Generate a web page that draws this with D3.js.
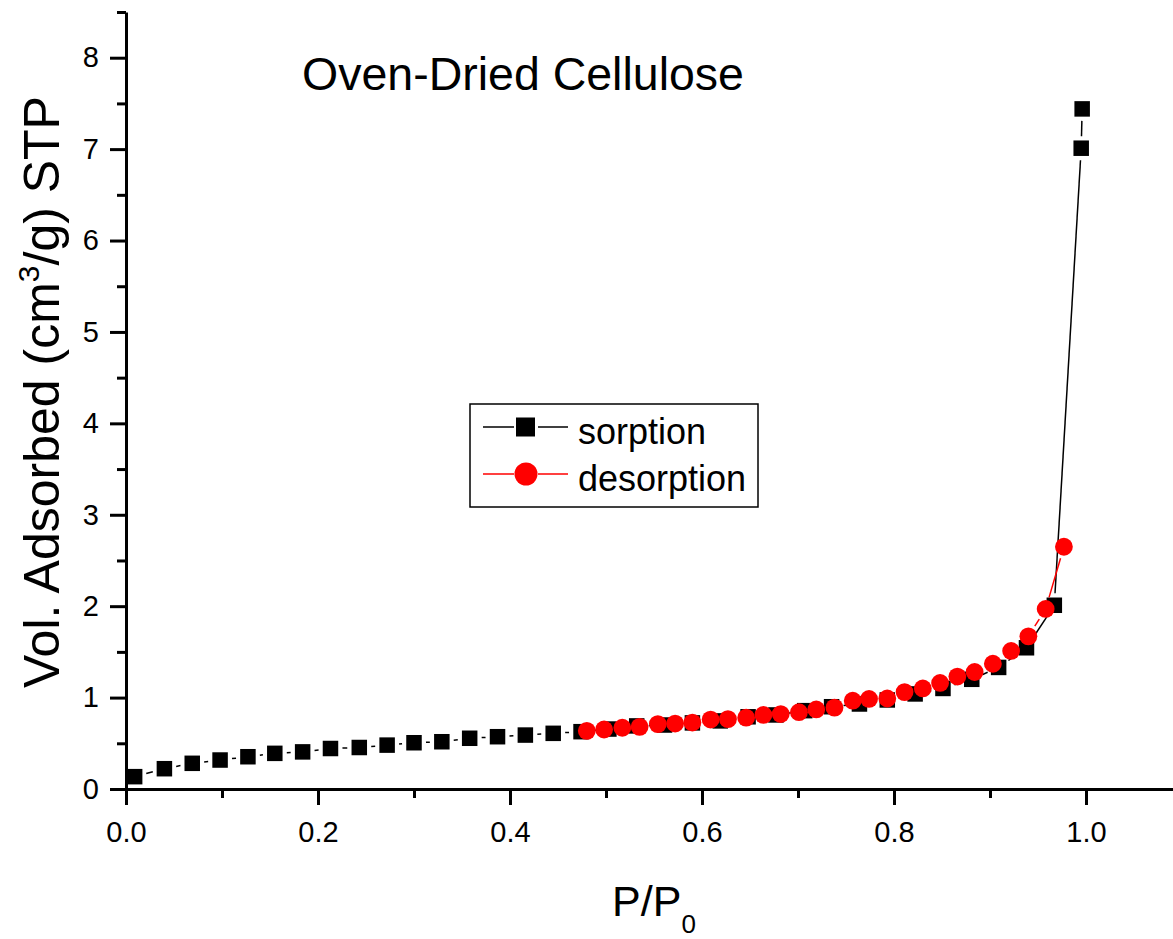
<!DOCTYPE html>
<html>
<head>
<meta charset="utf-8">
<script src="https://cdn.jsdelivr.net/npm/d3@7"></script>
<style>
  body { margin: 0; background: #fff; }
  text { font-family: "Liberation Sans", Arial, sans-serif; }
</style>
</head>
<body>
<div class="canvas"></div>
<script>
// data
const sorptionX = [0.009, 0.040, 0.069, 0.098, 0.127, 0.155, 0.184, 0.213, 0.243, 0.272, 0.300, 0.329,
                   0.358, 0.387, 0.416, 0.445, 0.474, 0.503, 0.532, 0.561, 0.590, 0.619, 0.648, 0.677,
                   0.707, 0.735, 0.764, 0.793, 0.822, 0.851, 0.881, 0.909, 0.938, 0.967, 0.995, 0.996]
const sorptionY = [0.135, 0.222, 0.281, 0.317, 0.353, 0.390, 0.406, 0.443, 0.454, 0.480, 0.506, 0.517,
                   0.555, 0.572, 0.590, 0.609, 0.627, 0.656, 0.690, 0.700, 0.723, 0.745, 0.790, 0.810,
                   0.857, 0.900, 0.930, 0.974, 1.040, 1.100, 1.200, 1.330, 1.545, 2.010, 7.010, 7.440]

const desorptionX = [0.480, 0.498, 0.517, 0.535, 0.554, 0.572, 0.590, 0.609, 0.627, 0.646, 0.664, 0.682,
                     0.701, 0.719, 0.738, 0.757, 0.774, 0.793, 0.811, 0.830, 0.848, 0.866, 0.884, 0.903,
                     0.922, 0.940, 0.958, 0.977]
const desorptionY = [0.636, 0.651, 0.670, 0.680, 0.710, 0.716, 0.727, 0.760, 0.764, 0.780, 0.810, 0.820,
                     0.840, 0.870, 0.890, 0.966, 0.985, 0.990, 1.060, 1.100, 1.160, 1.230, 1.280, 1.370,
                     1.510, 1.670, 1.970, 2.650]

const xMajor = [0, 0.2, 0.4, 0.6, 0.8, 1.0]
const xMinor = [0.1, 0.3, 0.5, 0.7, 0.9, 1.1]
const yMajor = [0, 1, 2, 3, 4, 5, 6, 7, 8]
const yMinor = [0.5, 1.5, 2.5, 3.5, 4.5, 5.5, 6.5, 7.5, 8.5]

const seriesNames = ['sorption', 'desorption']
const seriesColors = ['#000000', '#ff0000']

const width = 1173
const height = 939

const svg = d3.select('.canvas')
    .append('svg')
    .attr('width', width)
    .attr('height', height)
    .style('display', 'block')

svg.append('rect').attr('width', width).attr('height', height).attr('fill', '#fff')

const x = d3.scaleLinear().domain([0, 1.1]).range([126, 1182])
const y = d3.scaleLinear().domain([0, 8.5]).range([789, 12])

// axes
const xAxisGroup = svg.append('g').attr('transform', `translate(0, ${y(0)})`)
const yAxisGroup = svg.append('g').attr('transform', `translate(${x(0)}, 0)`)

xAxisGroup.call(d3.axisBottom(x).tickValues(xMajor).tickFormat(d3.format('.1f')).tickSize(16).tickSizeOuter(0).tickPadding(16))
xAxisGroup.append('g').call(d3.axisBottom(x).tickValues(xMinor).tickFormat('').tickSize(9))
    .select('.domain').remove()

yAxisGroup.call(d3.axisLeft(y).tickValues(yMajor).tickFormat(d3.format('d')).tickSize(16).tickSizeOuter(0).tickPadding(11))
yAxisGroup.append('g').call(d3.axisLeft(y).tickValues(yMinor).tickFormat('').tickSize(9))
    .select('.domain').remove()

svg.selectAll('.domain').attr('stroke', '#000').attr('stroke-width', 3)
svg.selectAll('.tick line').attr('stroke', '#000').attr('stroke-width', 3)
svg.selectAll('.tick text').attr('fill', '#000').style('font-size', '29px')
    .style('font-family', '"Liberation Sans", Arial, sans-serif')

// line with gaps round the symbols, like the original
function gappedSegments(g, xs, ys, color, gap) {
  const pts = xs.map((d, i) => [x(d), y(ys[i])])
  const segs = d3.pairs(pts).map(([a, b]) => {
    const dx = b[0] - a[0], dy = b[1] - a[1]
    const len = Math.hypot(dx, dy)
    if (len <= 2 * gap) return null
    const ux = dx / len, uy = dy / len
    return [a[0] + ux * gap, a[1] + uy * gap, b[0] - ux * gap, b[1] - uy * gap]
  }).filter(s => s)
  g.selectAll('line.seg').data(segs).enter().append('line')
    .attr('class', 'seg')
    .attr('x1', d => d[0]).attr('y1', d => d[1])
    .attr('x2', d => d[2]).attr('y2', d => d[3])
    .attr('stroke', color).attr('stroke-width', 1.5)
}

const sorpG = svg.append('g')
gappedSegments(sorpG, sorptionX, sorptionY, seriesColors[0], 12)
sorpG.selectAll('rect').data(sorptionX).enter().append('rect')
    .attr('x', d => x(d) - 7.75)
    .attr('y', (d, i) => y(sorptionY[i]) - 7.75)
    .attr('width', 15.5).attr('height', 15.5)
    .attr('fill', seriesColors[0])

const desG = svg.append('g')
gappedSegments(desG, desorptionX, desorptionY, seriesColors[1], 12)
desG.selectAll('circle').data(desorptionX).enter().append('circle')
    .attr('cx', d => x(d))
    .attr('cy', (d, i) => y(desorptionY[i]))
    .attr('r', 8.9)
    .attr('fill', seriesColors[1])

// title inside the plot
svg.append('text')
    .attr('x', 302).attr('y', 90)
    .style('font-size', '46.5px')
    .text('Oven-Dried Cellulose')

// axis titles
const xTitle = svg.append('text')
    .attr('x', (x.range()[0] + x.range()[1]) / 2).attr('y', 916)
    .attr('text-anchor', 'middle')
    .style('font-size', '43px')
xTitle.append('tspan').text('P/P')
xTitle.append('tspan').attr('dy', 17).style('font-size', '26px').text('0')

const yTitle = svg.append('text')
    .attr('transform', 'rotate(-90)')
    .attr('x', -392).attr('y', 59)
    .attr('text-anchor', 'middle')
    .style('font-size', '50px')
yTitle.append('tspan').text('Vol. Adsorbed (cm')
yTitle.append('tspan').attr('dy', -20).style('font-size', '30px').text('3')
yTitle.append('tspan').attr('dy', 20).text('/g) STP')

// legend
const legend = svg.append('g')
legend.append('rect')
    .attr('x', 470).attr('y', 404).attr('width', 288).attr('height', 103)
    .attr('fill', '#fff').attr('stroke', '#000').attr('stroke-width', 1.5)

const rows = legend.selectAll('g.row').data(seriesNames).enter().append('g')
    .attr('class', 'row')
    .attr('transform', (d, i) => `translate(0, ${427 + i * 47})`)

rows.append('line').attr('x1', 483).attr('x2', 514).attr('stroke', (d, i) => seriesColors[i]).attr('stroke-width', 1.5)
rows.append('line').attr('x1', 538).attr('x2', 568).attr('stroke', (d, i) => seriesColors[i]).attr('stroke-width', 1.5)
rows.filter((d, i) => i === 0).append('rect')
    .attr('x', 516).attr('y', -9.5).attr('width', 19).attr('height', 19).attr('fill', seriesColors[0])
rows.filter((d, i) => i === 1).append('circle')
    .attr('cx', 526).attr('cy', 0).attr('r', 11.5).attr('fill', seriesColors[1])
rows.append('text')
    .attr('x', 578).attr('y', 17)
    .style('font-size', '36px')
    .text(d => d)
</script>
</body>
</html>
